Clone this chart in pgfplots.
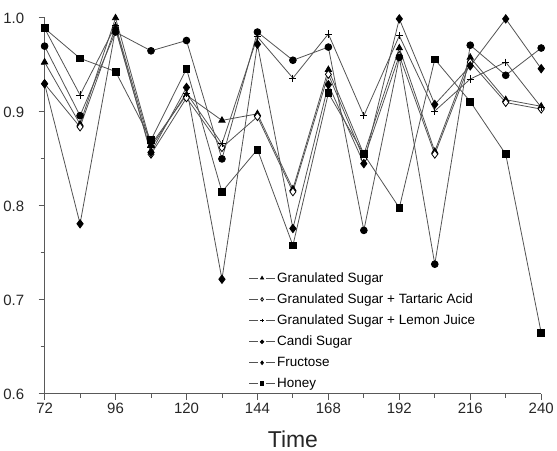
\documentclass[border=0pt]{standalone}
\usepackage{pgfplots}
\pgfplotsset{compat=1.18}
\usepackage{fontspec}
\setmainfont{Liberation Sans}
\begin{document}
\begin{tikzpicture}
\begin{axis}[
 scale only axis, width=498pt, height=377pt,
 xmin=72, xmax=240, ymin=0.6, ymax=1.0,
 axis x line*=bottom, axis y line*=left,
 axis line style={gray!70!black, line width=0.9pt},
 xtick={72,96,...,240}, ytick={0.6,0.7,0.8,0.9,1.0},
 minor x tick num=1, minor y tick num=1,
 tick align=outside, major tick length=6pt, minor tick length=4pt,
 every tick/.style={gray!70!black, line width=0.9pt},
 ticklabel style={font=\fontsize{15}{15}\selectfont, text=black!85},
 /pgf/number format/assume math mode=true,
 yticklabel style={xshift=-11pt, /pgf/number format/.cd, fixed, fixed zerofill, precision=1},
 xlabel={Time}, xlabel style={yshift=-10pt, font=\fontsize{23}{23}\selectfont, text=black!85},
 clip=false,
 legend style={draw=none, fill=none, at={(0.405,0.334)}, anchor=north west,
   font=\fontsize{13.5}{16}\selectfont, row sep=6pt, cells={anchor=west}},
 legend image code/.code={
   \draw (0cm,0cm) -- (0.3cm,0cm);
   \draw (0.6cm,0cm) -- (0.9cm,0cm);
   \draw[mark size=1.8pt] plot coordinates {(0.45cm,0cm)};},
 every axis plot/.append style={gray!65!black, line width=0.8pt},
]
\addplot[mark=triangle*, mark size=3.6pt, mark options={black, fill=black, solid}] coordinates {
(72,0.953) (84,0.887) (96,1.000) (108,0.865) (120,0.918) (132,0.891) (144,0.898) (156,0.818) (168,0.945) (180,0.855) (192,0.968) (204,0.858) (216,0.958) (228,0.913) (240,0.906)};
\addlegendentry{Granulated Sugar}
\addplot[mark=diamond*, mark size=4pt, mark options={draw=black, fill=white, solid}] coordinates {
(72,0.930) (84,0.884) (96,0.990) (108,0.855) (120,0.915) (132,0.862) (144,0.895) (156,0.815) (168,0.940) (180,0.850) (192,0.960) (204,0.855) (216,0.953) (228,0.910) (240,0.903)};
\addlegendentry{Granulated Sugar + Tartaric Acid}
\addplot[mark=+, mark size=3.6pt, mark options={black, solid}] coordinates {
(72,0.989) (84,0.918) (96,0.992) (108,0.862) (120,0.920) (132,0.866) (144,0.980) (156,0.936) (168,0.983) (180,0.896) (192,0.981) (204,0.901) (216,0.935) (228,0.953) (240,0.905)};
\addlegendentry{Granulated Sugar + Lemon Juice}
\addplot[mark=*, mark size=3.4pt, mark options={black, fill=black, solid}] coordinates {
(72,0.970) (84,0.896) (96,0.985) (108,0.965) (120,0.976) (132,0.850) (144,0.985) (156,0.955) (168,0.969) (180,0.774) (192,0.958) (204,0.738) (216,0.971) (228,0.939) (240,0.968)};
\addlegendentry{Candi Sugar}
\addplot[mark=diamond*, mark size=4.2pt, mark options={black, fill=black, solid}] coordinates {
(72,0.930) (84,0.781) (96,0.988) (108,0.857) (120,0.926) (132,0.722) (144,0.972) (156,0.776) (168,0.929) (180,0.845) (192,0.999) (204,0.908) (216,0.949) (228,0.999) (240,0.946)};
\addlegendentry{Fructose}
\addplot[mark=square*, mark size=3.4pt, mark options={black, fill=black, solid}] coordinates {
(72,0.989) (84,0.957) (96,0.943) (108,0.870) (120,0.946) (132,0.815) (144,0.860) (156,0.758) (168,0.920) (180,0.855) (192,0.798) (204,0.956) (216,0.911) (228,0.855) (240,0.665)};
\addlegendentry{Honey}
\path (rel axis cs:0,1) ++(0pt,18pt);
\end{axis}
\end{tikzpicture}
\end{document}
